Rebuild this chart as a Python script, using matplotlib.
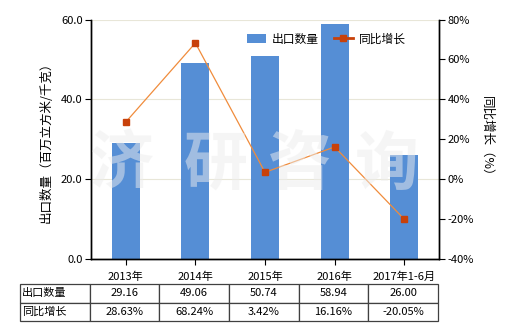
import matplotlib
matplotlib.use("Agg")
import matplotlib.pyplot as plt
from matplotlib.lines import Line2D
from matplotlib.patches import Patch

plt.rcParams['font.family'] = ['Noto Sans CJK SC', 'DejaVu Sans']

# Datos
categorias = ["2013年", "2014年", "2015年", "2016年", "2017年1-6月"]
cantidad = [29.16, 49.06, 50.74, 58.94, 26.00]
crecimiento = [28.63, 68.24, 3.42, 16.16, -20.05]
texto_cantidad = ["29.16", "49.06", "50.74", "58.94", "26.00"]
texto_crecimiento = ["28.63%", "68.24%", "3.42%", "16.16%", "-20.05%"]
fila_labels = ["出口数量", "同比增长"]

AZUL = "#558ED5"
NARANJA = "#F08C3C"
MARCA = "#C8410A"
GRIS = "#404040"

W, H = 520, 330
fig = plt.figure(figsize=(W / 100, H / 100), dpi=100)
ax = fig.add_axes([91 / W, 1 - 259 / H, 348 / W, 239.5 / H])
ax2 = ax.twinx()

x = list(range(len(categorias)))
ax.bar(x, cantidad, width=0.4, color=AZUL, zorder=2)
ax.set_ylim(0, 60)
ax.set_yticks([0, 20, 40, 60])
ax.set_yticklabels(["0.0", "20.0", "40.0", "60.0"])
ax.set_xlim(-0.5, len(categorias) - 0.5)
ax.set_xticks(x)
ax.set_xticklabels(categorias)
ax.grid(True, axis="y", color="#E8E6D8", linewidth=0.8, zorder=0)
ax.set_axisbelow(True)

ax2.plot(x, crecimiento, "-", color=NARANJA, linewidth=0.9, zorder=3)
ax2.plot(x, crecimiento, "s", color=MARCA, markersize=5, zorder=4)
ax2.set_ylim(-40, 80)
ax2.set_yticks([-40, -20, 0, 20, 40, 60, 80])
ax2.set_yticklabels([f"{v}%" for v in [-40, -20, 0, 20, 40, 60, 80]])

for a in (ax, ax2):
    a.spines["top"].set_visible(False)
    for s in ("left", "right", "bottom"):
        a.spines[s].set_color("black")
        a.spines[s].set_linewidth(1.0)
    a.tick_params(labelsize=8, length=4, width=0.8, color="black", pad=2)
ax.tick_params(axis="x", pad=5)

ax.set_ylabel("出口数量（百万立方米/千克）", fontsize=9, labelpad=6)
ax2.set_ylabel("同比增长（%）", fontsize=9, rotation=-90, labelpad=14)

handles = [Patch(facecolor=AZUL), Line2D([], [], color=MARCA, marker="s", markersize=4, linewidth=2)]
ax2.legend(handles, ["出口数量", "同比增长"], loc="upper right", bbox_to_anchor=(0.935, 0.99),
           ncol=2, frameon=False, fontsize=8.5, handlelength=1.6, columnspacing=1.3,
           handletextpad=0.5)

# Marca de agua
for ch, px in zip("济研咨询", [122, 216, 300, 387]):
    fig.text(px / W, 1 - 165 / H, ch, fontsize=46, fontweight="bold",
             color="#EDEDED", alpha=0.5, ha="center", va="center", zorder=10)

# Tabla
celdas = [[fila_labels[0]] + texto_cantidad, [fila_labels[1]] + texto_crecimiento]
ax_h = 239.5
tabla = ax.table(cellText=celdas, cellLoc="center",
                 bbox=[(20 - 91) / 348, (259 - 321) / ax_h, (438 - 20) / 348, 37 / ax_h])
tabla.auto_set_font_size(False)
for (r, c), cell in tabla.get_celld().items():
    cell.set_edgecolor(GRIS)
    cell.set_linewidth(0.9)
    cell.get_text().set_fontsize(8)
    if c == 0:
        cell.get_text().set_ha("left")
        cell._loc = "left"
        cell.PAD = 0.03

fig.savefig("out.png", dpi=100)
